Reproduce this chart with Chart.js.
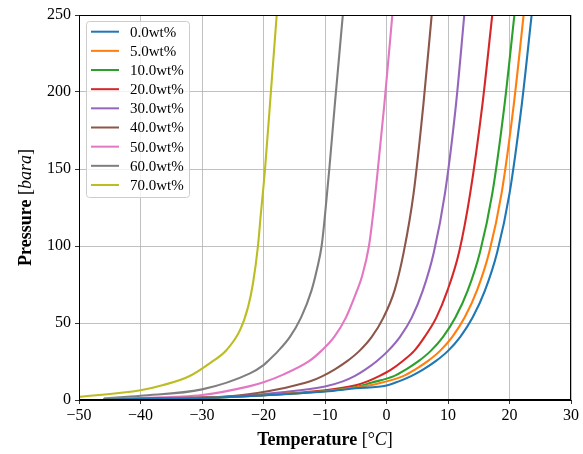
<!DOCTYPE html>
<html>
<head>
<meta charset="utf-8">
<script src="https://cdn.jsdelivr.net/npm/chart.js@4.4.1/dist/chart.umd.min.js"></script>
<style>
  html, body { margin: 0; padding: 0; background: #fff; }
  #wrap { width: 583px; height: 454px; }
</style>
</head>
<body>
<div id="wrap"><canvas id="chart"></canvas></div>
<script>
// hydrate curves, temperature (°C) vs pressure (bara), per inhibitor concentration
const labels = ['0.0wt%', '5.0wt%', '10.0wt%', '20.0wt%', '30.0wt%', '40.0wt%', '50.0wt%', '60.0wt%', '70.0wt%'];
const colors = ['#1f77b4', '#ff7f0e', '#2ca02c', '#d62728', '#9467bd', '#8c564b', '#e377c2', '#7f7f7f', '#bcbd22'];

const t0 = [-46, -30, -20, -10, -5, 0, 2, 4, 6, 8, 10, 12, 14, 16, 18, 20, 22, 23.6];
const p0 = [0.3, 1.3, 3, 5.5, 7.6, 9.4, 12.1, 15.5, 19.9, 25.2, 31.9, 41, 53.5, 71, 96, 134, 192, 250];

const t5 = [-46, -30, -20, -10, -5, -1.5, 2.7, 4.7, 6.7, 8.7, 10.7, 12.7, 14.7, 16.7, 18.7, 20.7, 22.3];
const p5 = [0.3, 1.3, 3.1, 5.7, 8.1, 10.6, 15.5, 19.9, 25.2, 31.9, 41, 53.5, 71, 96, 134, 192, 250];

const t10 = [-46, -30, -20, -10, -5, -2.5, 1.2, 3.2, 5.2, 7.2, 9.2, 11.2, 13.2, 15.2, 17.2, 19.2, 20.8];
const p10 = [0.3, 1.3, 3.1, 5.8, 8.4, 11.2, 15.5, 19.9, 25.2, 31.9, 41, 53.5, 71, 96, 134, 192, 250];

const t20 = [-46, -30, -20, -10, -5, -3.1, -1.2, 0.8, 2.6, 4.5, 6.2, 8.1, 9.9, 11.8, 13.6, 15.6, 17.2];
const p20 = [0.3, 1.4, 3.2, 6.3, 9.6, 12.1, 15.5, 19.9, 25.2, 31.9, 41, 53.5, 71, 96, 134, 192, 250];

const t30 = [-46, -35, -25, -17, -10, -7.1, -5.2, -3.4, -1.6, 0.25, 2.2, 4.1, 5.9, 7.7, 9.5, 11.3, 12.65];
const p30 = [0.5, 1, 2.3, 5, 8.8, 12.1, 15.5, 19.9, 25.2, 31.9, 41, 53.5, 71, 96, 134, 192, 250];

const t40 = [-46, -36, -26.1, -21, -16.8, -12.4, -10.4, -8.4, -6.4, -4.4, -2.4, -0.5, 1.3, 2.8, 4.4, 6.0, 7.35];
const p40 = [0.6, 1.2, 2.2, 4.6, 7.6, 12.1, 15.5, 19.9, 25.2, 31.9, 41, 53.5, 71, 96, 134, 192, 250];

const t50 = [-46, -40, -30, -22.2, -20, -16.8, -12.6, -10.6, -8.5, -6.6, -4.8, -4.0, -2.85, -2.2, -1.4, -0.35, 0.95];
const p50 = [0.8, 1.3, 3.2, 9, 11.5, 16.5, 25.2, 31.9, 41, 53.5, 71, 80, 100, 120, 150, 192, 250];

const t60 = [-45.9, -40, -30, -22.2, -20, -19.3, -17.6, -15.7, -13.9, -12.2, -11.3, -10.55, -10.0, -9.3, -8.4, -7.1];
const p60 = [1.1, 2.8, 6.9, 17.3, 22.7, 25.2, 31.9, 41, 53.5, 71, 85, 100, 120, 150, 192, 250];

const t70 = [-50, -40, -36.3, -32, -28.7, -26, -23.8, -22.5, -21.7, -20.9, -20.45, -19.75, -18.8, -17.85];
const p70 = [2, 6.3, 9.7, 15.6, 24, 32.5, 45.5, 60.6, 76, 100, 120, 150, 200, 250];

const xTicks = [-50, -40, -30, -20, -10, 0, 10, 20, 30];
const yTicks = [0, 50, 100, 150, 200, 250];

const temps = [t0, t5, t10, t20, t30, t40, t50, t60, t70];
const press = [p0, p5, p10, p20, p30, p40, p50, p60, p70];

const SERIF = '"Liberation Serif", "DejaVu Serif", serif';

const datasets = labels.map((label, i) => ({
  label,
  data: temps[i].map((t, j) => ({x: t, y: press[i][j]})),
  borderColor: colors[i],
  backgroundColor: colors[i],
  borderWidth: 2.1,
  pointRadius: 0,
  cubicInterpolationMode: 'monotone',
  fill: false
}));

// draws frame, legend and mixed-style axis titles
const decor = {
  id: 'decor',
  afterDraw(chart) {
    const {ctx, chartArea: a} = chart;
    ctx.save();
    ctx.strokeStyle = '#000';
    ctx.lineWidth = 1;
    ctx.strokeRect(Math.round(a.left) + 0.5, Math.round(a.top) + 0.5,
      Math.round(a.right - a.left) - 1, Math.round(a.bottom - a.top) - 1);

    // legend
    const lx = 86, ly = 21, lw = 103, lh = 176, r = 3;
    ctx.beginPath();
    ctx.roundRect(lx + 0.5, ly + 0.5, lw, lh, r);
    ctx.fillStyle = 'rgba(255,255,255,0.8)';
    ctx.fill();
    ctx.strokeStyle = '#cccccc';
    ctx.stroke();
    ctx.font = '15px ' + SERIF;
    ctx.textBaseline = 'middle';
    ctx.textAlign = 'left';
    chart.data.datasets.forEach((ds, i) => {
      const y = 31.7 + i * 19.16;
      ctx.strokeStyle = ds.borderColor;
      ctx.lineWidth = 2;
      ctx.beginPath();
      ctx.moveTo(91, y);
      ctx.lineTo(119, y);
      ctx.stroke();
      ctx.fillStyle = '#000';
      ctx.fillText(ds.label, 130, y + 1);
    });

    // axis titles
    const drawParts = (parts, cx, cy) => {
      let total = 0;
      parts.forEach(p => { ctx.font = p[1]; total += ctx.measureText(p[0]).width; });
      let x = cx - total / 2;
      parts.forEach(p => {
        ctx.font = p[1];
        ctx.fillText(p[0], x, cy);
        x += ctx.measureText(p[0]).width;
      });
    };
    ctx.fillStyle = '#000';
    ctx.textBaseline = 'middle';
    const mid = (a.left + a.right) / 2;
    drawParts([
      ['Temperature', 'bold 18px ' + SERIF],
      [' [°', '18px ' + SERIF],
      ['C', 'italic 18px ' + SERIF],
      [']', '18px ' + SERIF]
    ], mid, 440);

    ctx.translate(26, (a.top + a.bottom) / 2);
    ctx.rotate(-Math.PI / 2);
    drawParts([
      ['Pressure', 'bold 18px ' + SERIF],
      [' [', '18px ' + SERIF],
      ['bara', 'italic 18px ' + SERIF],
      [']', '18px ' + SERIF]
    ], 0, 0);
    ctx.restore();
  }
};

const minus = v => String(v).replace('-', '\u2212');

new Chart(document.getElementById('chart'), {
  type: 'line',
  data: {datasets},
  options: {
    responsive: true,
    maintainAspectRatio: false,
    animation: false,
    layout: {padding: {top: 15, right: 12, left: 0, bottom: 0}},
    plugins: {
      legend: {display: false},
      tooltip: {enabled: false}
    },
    scales: {
      x: {
        type: 'linear',
        min: -50,
        max: 30,
        afterFit: s => { s.height = 54; },
        afterBuildTicks: s => { s.ticks = xTicks.map(v => ({value: v})); },
        ticks: {
          color: '#000',
          padding: 2,
          font: {family: SERIF, size: 16},
          callback: v => minus(v)
        },
        grid: {color: '#b0b0b0', lineWidth: 0.8, tickLength: 4, tickColor: '#000'},
        border: {display: true, color: '#000', width: 1}
      },
      y: {
        min: 0,
        max: 250,
        afterFit: s => { s.width = 79; },
        afterBuildTicks: s => { s.ticks = yTicks.map(v => ({value: v})); },
        ticks: {
          color: '#000',
          padding: 4,
          font: {family: SERIF, size: 16},
          callback: v => minus(v)
        },
        grid: {color: '#b0b0b0', lineWidth: 0.8, tickLength: 4, tickColor: '#000'},
        border: {display: true, color: '#000', width: 1}
      }
    }
  },
  plugins: [decor]
});
</script>
</body>
</html>
